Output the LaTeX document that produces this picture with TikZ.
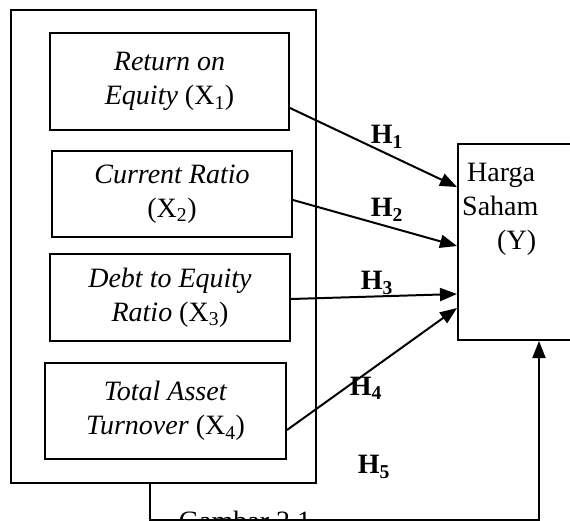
\documentclass[tikz,border=0pt]{standalone}
\usepackage{fontspec}
\setmainfont{Liberation Serif}
\usetikzlibrary{arrows.meta,positioning}

\tikzset{
	varbox/.style={draw, line width=0.7mm, align=center, inner sep=0pt},
	hyp/.style={line width=0.7mm, -{Triangle[length=17pt,width=13pt]}},
	hlabel/.style={font=\fontsize{28}{34}\selectfont\bfseries}
}

\begin{document}
\begin{tikzpicture}[x=1pt, y=-1pt, font=\fontsize{28}{34}\selectfont]
			%%%%% START %%%%%
			\useasboundingbox (0,0) rectangle (570,520);
			\clip (0,0) rectangle (570,520);
			
			\node[varbox, minimum width=305pt, minimum height=473pt] (outer) at (163.5,246.5) {};
			
			\node[varbox, minimum width=239pt, minimum height=97pt] (roe) at (169.5,81.5) {\textit{Return on}\\\textit{Equity} (X\textsubscript{1})};
			\node[varbox, minimum width=240pt, minimum height=86pt] (cr) at (172,194) {\textit{Current Ratio}\\(X\textsubscript{2})};
			\node[varbox, minimum width=240pt, minimum height=87pt] (der) at (170,297.5) {\textit{Debt to Equity}\\\textit{Ratio} (X\textsubscript{3})};
			\node[varbox, minimum width=241pt, minimum height=96pt] (tato) at (165.5,411) {\textit{Total Asset}\\\textit{Turnover} (X\textsubscript{4})};
			
			\node[varbox, minimum width=162pt, minimum height=196pt] (harga) at (539,242) {};
			\node[anchor=north west, align=left, inner sep=0pt] (hargatext) at ([xshift=5pt,yshift=-19.5pt]harga.north west) {\hspace{5pt}Harga\\Saham\\\hspace{35pt}(Y)};
			
			\node[anchor=base] (caption) at (245,530) {Gambar 2.1};
			
			\draw[hyp] ([yshift=-26.5pt]roe.east) -- ([yshift=-44pt]harga.north west);
			\draw[hyp] ([yshift=-6pt]cr.east) -- ([yshift=-103pt]harga.north west);
			\draw[hyp] ([yshift=-1.5pt]der.east) -- ([yshift=-151pt]harga.north west);
			\draw[hyp] ([yshift=-19pt]tato.east) -- ([yshift=-165pt]harga.north west);
			\draw[hyp] ([xshift=-13.5pt]outer.south) -- ++(0,36) -| (harga.south);
			
			\node[hlabel] (h1) at (387,137) {H\textsubscript{1}};
			\node[hlabel] (h2) at (387,210) {H\textsubscript{2}};
			\node[hlabel] (h3) at (377,283) {H\textsubscript{3}};
			\node[hlabel] (h4) at (366,388) {H\textsubscript{4}};
			\node[hlabel] (h5) at (374,467) {H\textsubscript{5}};
			
			%%%%% END %%%%%
\end{tikzpicture}
\end{document}
